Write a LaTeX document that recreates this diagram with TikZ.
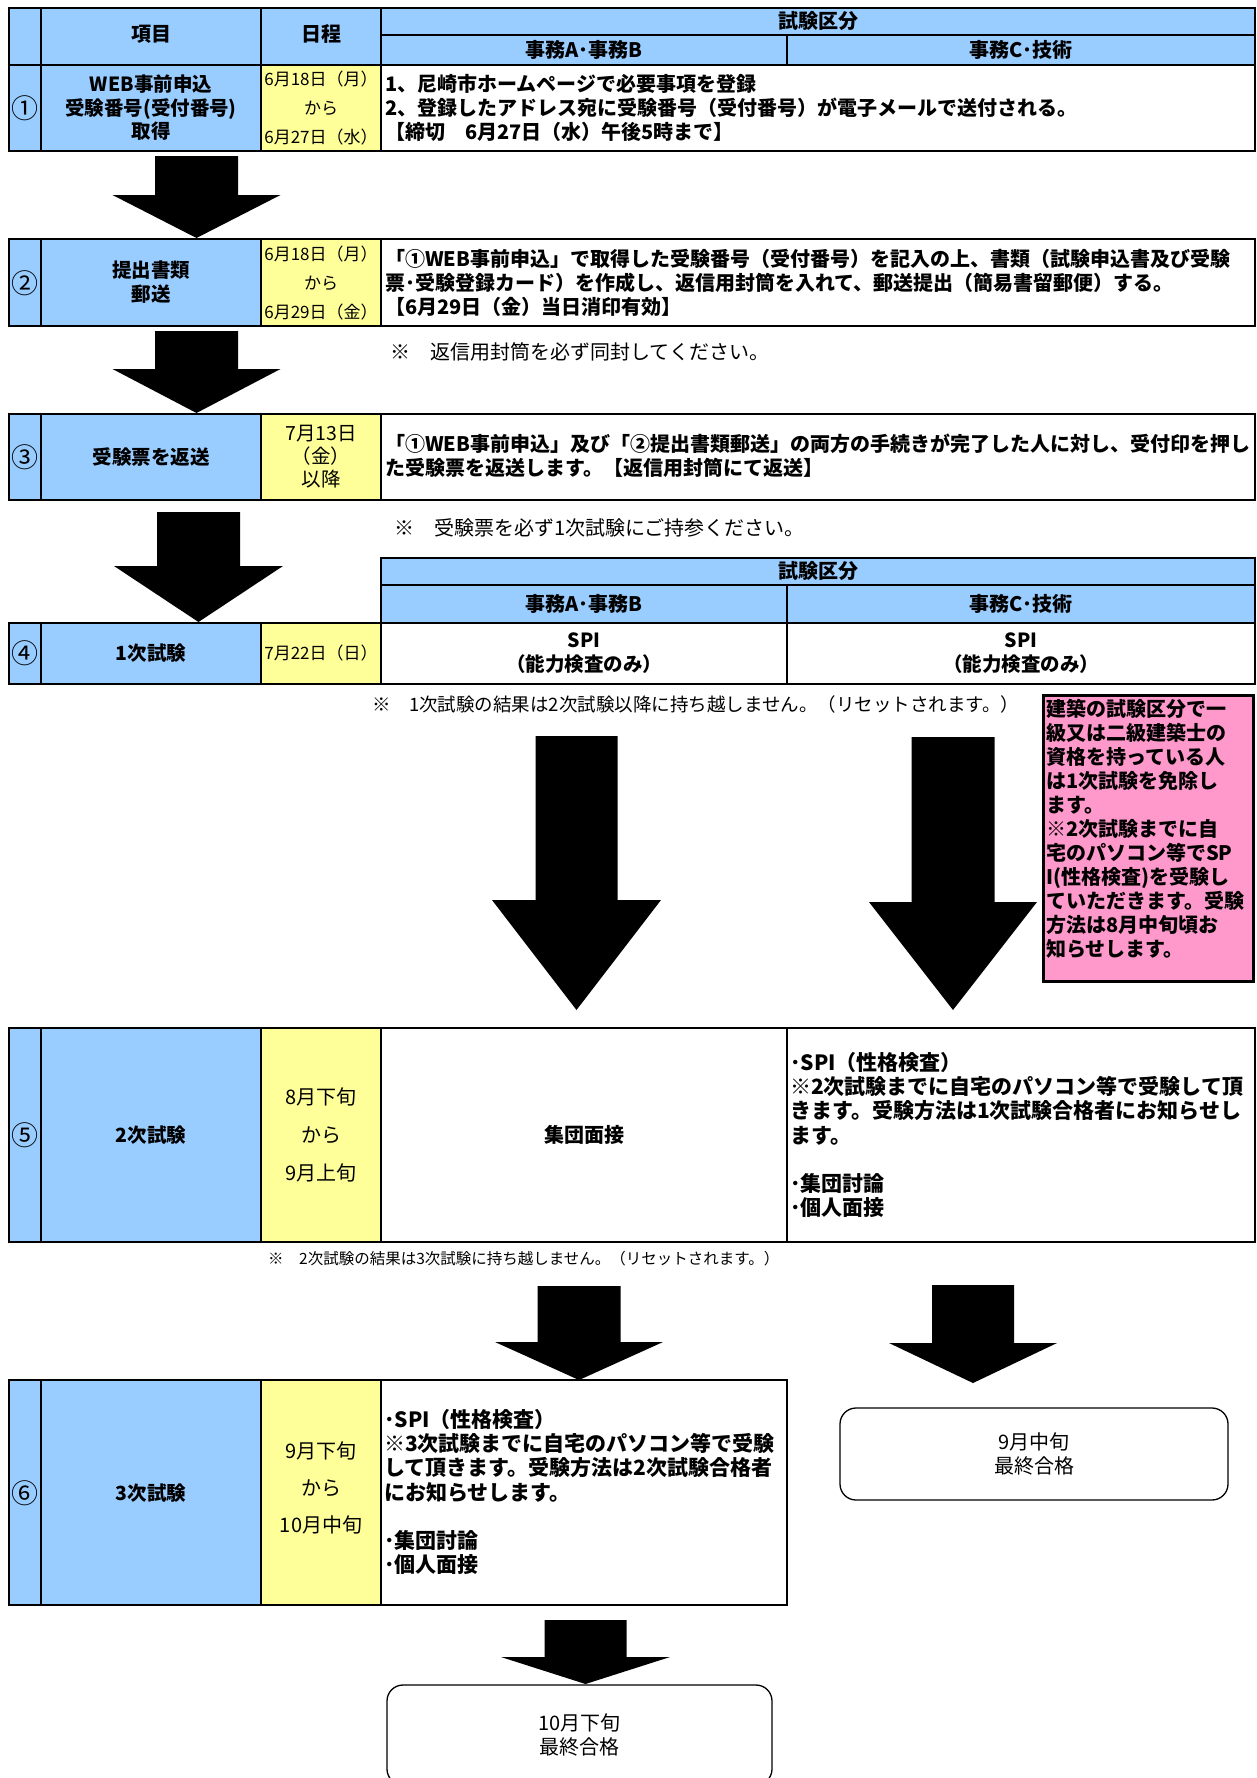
\documentclass[tikz,border=0pt]{standalone}
\usepackage{fontspec}
\setmainfont{Noto Sans CJK JP}
\definecolor{cblue}{HTML}{99CCFF}
\definecolor{cyellow}{HTML}{FFFF99}
\definecolor{cpink}{HTML}{FF99CC}
\newcommand{\fsz}[2]{\fontsize{#1}{#2}\selectfont}
% block arrow: cx, shaft half width, head half width, top, head start, tip
\newcommand{\blkarrow}[6]{%
  \fill[blockarrow] (#1-#2,#4) -- (#1+#2,#4) -- (#1+#2,#5) -- (#1+#3,#5) -- (#1,#6) -- (#1-#3,#5) -- (#1-#2,#5) -- cycle;}
\tikzset{
  tbl/.style={draw=black, line width=2.4pt},
  hd/.style={font=\bfseries\fsz{20}{23}, inner sep=0pt, align=center},
  item/.style={font=\bfseries\fsz{19.5}{23.5}, inner sep=0pt, align=center},
  num/.style={font=\fsz{27}{28}, inner sep=0pt},
  datetxt/.style={font=\fsz{17}{29}, inner sep=0pt, align=center},
  datebig/.style={font=\fsz{19.5}{23}, inner sep=0pt, align=center},
  body/.style={font=\bfseries\fsz{20}{24}, inner sep=0pt, align=left, anchor=west},
  bodyb/.style={font=\bfseries\fsz{21}{24.3}, inner sep=0pt, align=left, anchor=west},
  note/.style={font=\fsz{20}{24}, inner sep=0pt, anchor=west},
  blockarrow/.style={fill=black, draw=none},
  finalbox/.style={draw=black, line width=1.3pt, rounded corners=16pt, fill=white, inner sep=0pt, align=center, font=\fsz{20}{23.5}},
}
\begin{document}
\begin{tikzpicture}[x=1pt,y=-1pt]
\useasboundingbox (0,0) rectangle (1257,1778);
\clip (0,0) rectangle (1257,1778);
\fill[white] (0,0) rectangle (1257,1778);

% ---------- header 1 ----------
\fill[cblue] (9,8) rectangle (1255,65);
% ---------- row fills ----------
\fill[cblue] (9,65) rectangle (261,151);   \fill[cyellow] (261,65) rectangle (381,151);
\fill[cblue] (9,239) rectangle (261,326);  \fill[cyellow] (261,239) rectangle (381,326);
\fill[cblue] (9,414) rectangle (261,500);  \fill[cyellow] (261,414) rectangle (381,500);
\fill[cblue] (381,558) rectangle (1255,623);
\fill[cblue] (9,623) rectangle (261,684);  \fill[cyellow] (261,623) rectangle (381,684);
\fill[cblue] (9,1028) rectangle (261,1242); \fill[cyellow] (261,1028) rectangle (381,1242);
\fill[cblue] (9,1380) rectangle (261,1605); \fill[cyellow] (261,1380) rectangle (381,1605);

% ---------- borders ----------
% header 1 + row 1
\draw[tbl] (9,8) rectangle (1255,151);
\draw[tbl] (9,65) -- (1255,65);
\draw[tbl] (381,35) -- (1255,35);
\draw[tbl] (41,8) -- (41,151);
\draw[tbl] (261,8) -- (261,151);
\draw[tbl] (381,8) -- (381,151);
\draw[tbl] (787,35) -- (787,65);
% row 2
\draw[tbl] (9,239) rectangle (1255,326);
\draw[tbl] (41,239) -- (41,326);
\draw[tbl] (261,239) -- (261,326);
\draw[tbl] (381,239) -- (381,326);
% row 3
\draw[tbl] (9,414) rectangle (1255,500);
\draw[tbl] (41,414) -- (41,500);
\draw[tbl] (261,414) -- (261,500);
\draw[tbl] (381,414) -- (381,500);
% header 2 + row 4
\draw[tbl] (381,558) rectangle (1255,623);
\draw[tbl] (381,585) -- (1255,585);
\draw[tbl] (787,585) -- (787,684);
\draw[tbl] (9,623) rectangle (1255,684);
\draw[tbl] (41,623) -- (41,684);
\draw[tbl] (261,623) -- (261,684);
\draw[tbl] (381,623) -- (381,684);
% row 5
\draw[tbl] (9,1028) rectangle (1255,1242);
\draw[tbl] (41,1028) -- (41,1242);
\draw[tbl] (261,1028) -- (261,1242);
\draw[tbl] (381,1028) -- (381,1242);
\draw[tbl] (787,1028) -- (787,1242);
% row 6
\draw[tbl] (9,1380) rectangle (787,1605);
\draw[tbl] (41,1380) -- (41,1605);
\draw[tbl] (261,1380) -- (261,1605);
\draw[tbl] (381,1380) -- (381,1605);

% ---------- header texts ----------
\node[hd] (hitem) at (151,34) {項目};
\node[hd] (hdate) at (321,34) {日程};
\node[hd] (hkubun) at (818,21) {試験区分};
\node[hd] (hab) at (584,50) {事務A･事務B};
\node[hd] (hc) at (1021,50) {事務C･技術};

% ---------- row 1 ----------
\node[num] (n1) at (25,108) {①};
\node[item] (i1) at (151,108) {WEB事前申込\\受験番号(受付番号)\\取得};
\node[datetxt] (d1) at (321,108) {6月18日（月）\\から\\6月27日（水）};
\node[body] (b1) at (385,108) {1、尼崎市ホームページで必要事項を登録\\2、登録したアドレス宛に受験番号（受付番号）が電子メールで送付される。\\【締切　6月27日（水）午後5時まで】};

% ---------- row 2 ----------
\node[num] (n2) at (25,283) {②};
\node[item] (i2) at (151,282) {提出書類\\郵送};
\node[datetxt] (d2) at (321,283) {6月18日（月）\\から\\6月29日（金）};
\node[body] (b2) at (385,283) {「①WEB事前申込」で取得した受験番号（受付番号）を記入の上、書類（試験申込書及び受験\\票･受験登録カード）を作成し、返信用封筒を入れて、郵送提出（簡易書留郵便）する。\\【6月29日（金）当日消印有効】};
\node[note] (note1) at (390,352) {※　返信用封筒を必ず同封してください。};

% ---------- row 3 ----------
\node[num] (n3) at (25,457) {③};
\node[item] (i3) at (151,457) {受験票を返送};
\node[datebig] (d3) at (321,457) {7月13日\\（金）\\以降};
\node[body] (b3) at (385,456) {「①WEB事前申込」及び「②提出書類郵送」の両方の手続きが完了した人に対し、受付印を押し\\た受験票を返送します。【返信用封筒にて返送】};
\node[note] (note2) at (394,528) {※　受験票を必ず1次試験にご持参ください。};

% ---------- header 2 + row 4 ----------
\node[hd] (hkubun2) at (818,571) {試験区分};
\node[hd] (hab2) at (584,604) {事務A･事務B};
\node[hd] (hc2) at (1021,604) {事務C･技術};
\node[num] (n4) at (25,653) {④};
\node[item] (i4) at (151,653) {1次試験};
\node[datetxt] (d4) at (321,653) {7月22日（日）};
\node[item] (a4) at (584,653) {SPI\\（能力検査のみ）};
\node[item] (c4) at (1021,653) {SPI\\（能力検査のみ）};
\node[note, font=\fsz{18.5}{22}] (note3) at (372,704) {※　1次試験の結果は2次試験以降に持ち越しません。（リセットされます。）};

% ---------- pink box ----------
\filldraw[fill=cpink, draw=black, line width=3pt] (1043,695) rectangle (1253,981);
\node[body, font=\bfseries\fsz{20}{24}] (pink) at (1046,829) {建築の試験区分で一\\級又は二級建築士の\\資格を持っている人\\は1次試験を免除し\\ます。\\※2次試験までに自\\宅のパソコン等でSP\\I(性格検査)を受験し\\ていただきます。受験\\方法は8月中旬頃お\\知らせします。};

% ---------- row 5 ----------
\node[num] (n5) at (25,1135) {⑤};
\node[item] (i5) at (151,1135) {2次試験};
\node[datebig, font=\fsz{20}{38}] (d5) at (321,1135) {8月下旬\\から\\9月上旬};
\node[item, font=\bfseries\fsz{20}{24}] (a5) at (584,1135) {集団面接};
\node[bodyb] (c5) at (790,1135) {･SPI（性格検査）\\※2次試験までに自宅のパソコン等で受験して頂\\きます。受験方法は1次試験合格者にお知らせし\\ます。\\[24.3pt]･集団討論\\･個人面接};
\node[note, font=\fsz{15.5}{19}] (note4) at (268,1259) {※　2次試験の結果は3次試験に持ち越しません。（リセットされます。）};

% ---------- row 6 ----------
\node[num] (n6) at (25,1493) {⑥};
\node[item] (i6) at (151,1493) {3次試験};
\node[datebig, font=\fsz{20}{37}] (d6) at (321,1488) {9月下旬\\から\\10月中旬};
\node[bodyb] (a6) at (384,1492) {･SPI（性格検査）\\※3次試験までに自宅のパソコン等で受験\\して頂きます。受験方法は2次試験合格者\\にお知らせします。\\[24.3pt]･集団討論\\･個人面接};

% ---------- final boxes ----------
\node[finalbox, minimum width=388pt, minimum height=92pt] (final9) at (1034,1454) {9月中旬\\最終合格};
\node[finalbox, minimum width=385pt, minimum height=100pt] (final10) at (579.5,1735) {10月下旬\\最終合格};

% ---------- block arrows ----------
\blkarrow{196.5}{41.5}{84}{156}{195}{238}
\blkarrow{196.5}{41.5}{84}{331}{369}{413}
\blkarrow{198.5}{41.5}{84.5}{512}{566}{622}
\blkarrow{576.5}{41}{84.5}{736}{900}{1010}
\blkarrow{953}{41.5}{84}{737}{902}{1010}
\blkarrow{579}{41.5}{84}{1286}{1342}{1380}
\blkarrow{973}{41}{84}{1285}{1343}{1383}
\blkarrow{585.5}{41}{84.5}{1620}{1657}{1684}
\end{tikzpicture}
\end{document}
